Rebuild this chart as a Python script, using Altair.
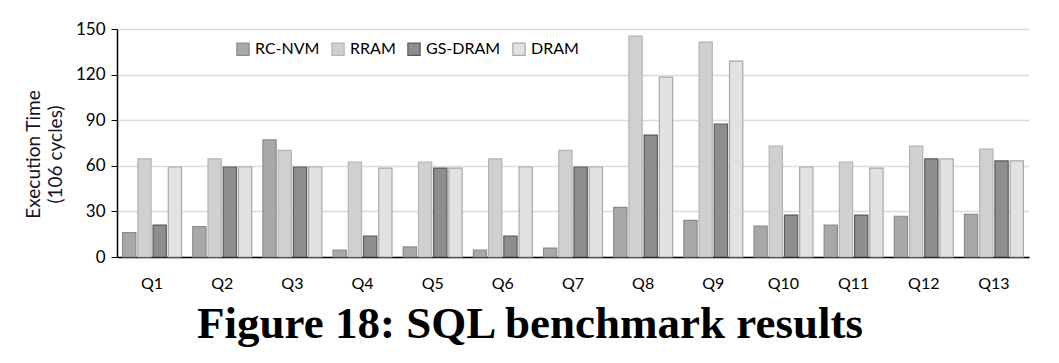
import altair as alt
import pandas as pd

queries = ["Q1", "Q2", "Q3", "Q4", "Q5", "Q6", "Q7", "Q8", "Q9", "Q10", "Q11", "Q12", "Q13"]
series = ["RC-NVM", "RRAM", "GS-DRAM", "DRAM"]
rc_nvm = [16, 20, 77, 4.6, 6.6, 4.6, 5.9, 32.7, 24.1, 20.4, 21, 26.8, 28.1]
rram = [64.5, 64.5, 70.2, 62.5, 62.5, 64.5, 70.2, 145.3, 141.4, 73, 62.5, 73, 71]
gs_dram = [21, 59.2, 59.2, 13.8, 58.5, 13.8, 59.2, 80.2, 87.5, 27.6, 27.6, 64.5, 63.2]
dram = [59.2, 59.2, 59.2, 58.5, 58.5, 59.2, 59.2, 118.4, 128.9, 59.2, 58.5, 64.5, 63.2]
fills = ["#a8a8a8", "#d0d0d0", "#8e8e8e", "#e2e2e2"]
strokes = ["#8c8c8c", "#b4b4b4", "#5a5a5a", "#a8a8a8"]

rows = []
for name, vals in zip(series, [rc_nvm, rram, gs_dram, dram]):
    for q, v in zip(queries, vals):
        rows.append({"Query": q, "Series": name, "Value": v})
df = pd.DataFrame(rows)

FONT = "Lato"

bars = alt.Chart(df).mark_bar(strokeWidth=1.2).encode(
    x=alt.X("Query:N", sort=queries,
            scale=alt.Scale(paddingInner=0.16, paddingOuter=0.08),
            axis=alt.Axis(title=None, labelAngle=0, ticks=False, domain=True,
                          domainColor="#000000", domainWidth=1.5,
                          labelPadding=18, labelFontSize=16, labelFont=FONT,
                          labelColor="#000000")),
    xOffset=alt.XOffset("Series:N", sort=series, scale=alt.Scale(paddingInner=0.13)),
    y=alt.Y("Value:Q", scale=alt.Scale(domain=[0, 150]),
            axis=alt.Axis(values=[0, 30, 60, 90, 120, 150],
                          title=["Execution Time", "(106 cycles)"],
                          titleFont=FONT, titleFontSize=19, titleFontWeight="normal",
                          titleColor="#141428", titlePadding=10, titleLineHeight=22,
                          titleY=125, titleAlign="center",
                          labelFont=FONT, labelFontSize=17, labelColor="#000000",
                          labelPadding=6, tickSize=6, tickColor="#000000",
                          domainColor="#000000", domainWidth=1.5,
                          gridColor="#dcdcdc", gridWidth=1.5)),
    color=alt.Color("Series:N", sort=series,
                    scale=alt.Scale(domain=series, range=fills),
                    legend=alt.Legend(title=None, orient="none", direction="horizontal",
                                      legendX=118, legendY=12,
                                      symbolType="square", symbolSize=150,
                                      symbolStrokeWidth=1.2,
                                      labelFont=FONT, labelFontSize=16,
                                      labelColor="#000000", columnPadding=9,
                                      labelOffset=4)),
    stroke=alt.Stroke("Series:N", sort=series,
                      scale=alt.Scale(domain=series, range=strokes), legend=None),
)

chart = bars.properties(
    width=912, height=228,
    padding={"left": 109, "top": 21, "right": 14, "bottom": 90},
    autosize=alt.AutoSizeParams(type="none"),
    title=alt.TitleParams("Figure 18: SQL benchmark results", orient="bottom",
                          font="Liberation Serif", fontSize=45, fontWeight="bold",
                          color="#000000", anchor="middle", offset=11, dx=-43),
).configure_view(stroke=None).configure_axisX(grid=False)

chart.save("out.html", embed_options={"renderer": "svg", "actions": False})
